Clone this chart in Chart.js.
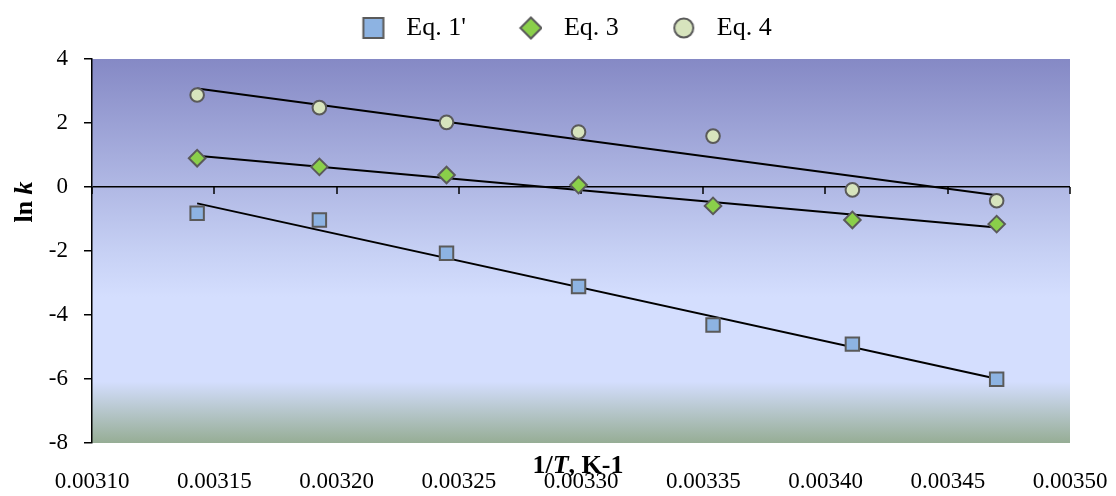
<!DOCTYPE html>
<html>
<head>
<meta charset="utf-8">
<script src="https://cdn.jsdelivr.net/npm/chart.js@4.4.0/dist/chart.umd.min.js"></script>
<style>
  html, body { margin: 0; background: #fff; }
  #wrap { width: 1116px; height: 496px; }
</style>
</head>
<body>
<div id="wrap"><canvas id="chart"></canvas></div>
<script>
// 1/T values (K^-1) and ln k for each equation
const invT = [0.003143, 0.003193, 0.003245, 0.003299, 0.003354, 0.003411, 0.003470];
const eq1 = [-0.82, -1.03, -2.07, -3.11, -4.31, -4.91, -6.01];
const eq3 = [0.90, 0.63, 0.375, 0.06, -0.59, -1.03, -1.16];
const eq4 = [2.875, 2.48, 2.02, 1.72, 1.59, -0.09, -0.43];
const seriesNames = ["Eq. 1'", "Eq. 3", "Eq. 4"];

const SERIF = "'Liberation Serif', 'Times New Roman', serif";
const EDGE = '#5a5a5a';

function points(ys) {
  return invT.map((x, i) => ({ x: x, y: ys[i] }));
}

// least squares line, like the Excel linear trendline
function trend(ys) {
  const n = invT.length;
  const mx = invT.reduce((a, b) => a + b, 0) / n;
  const my = ys.reduce((a, b) => a + b, 0) / n;
  let sxy = 0, sxx = 0;
  invT.forEach((x, i) => { sxy += (x - mx) * (ys[i] - my); sxx += (x - mx) * (x - mx); });
  const k = sxy / sxx;
  const x0 = invT[0], x1 = invT[n - 1];
  return [{ x: x0, y: my + k * (x0 - mx) }, { x: x1, y: my + k * (x1 - mx) }];
}

// legend marker pictures (bigger than the plot markers, as in the original)
function sprite(kind, fill) {
  const c = document.createElement('canvas');
  c.width = 50; c.height = 26;
  const g = c.getContext('2d');
  const cx = 38.5, cy = 13;
  g.fillStyle = fill; g.strokeStyle = EDGE; g.lineWidth = 2;
  g.beginPath();
  if (kind === 'rect') g.rect(cx - 10, cy - 10, 20, 20);
  else if (kind === 'diamond') { g.moveTo(cx, cy - 10.5); g.lineTo(cx + 10.5, cy); g.lineTo(cx, cy + 10.5); g.lineTo(cx - 10.5, cy); g.closePath(); }
  else g.arc(cx, cy, 9.5, 0, Math.PI * 2);
  g.fill(); g.stroke();
  return c;
}
const legendIcons = [sprite('rect', '#8db3e2'), sprite('diamond', '#8acf4a'), sprite('circle', '#d7e4bd')];

const plotBackground = {
  id: 'plotBackground',
  beforeDraw(chart) {
    const { ctx, chartArea: a } = chart;
    const g = ctx.createLinearGradient(0, a.top, 0, a.bottom);
    g.addColorStop(0, '#8589c5');
    g.addColorStop(0.5, '#c6d0f4');
    g.addColorStop(0.62, '#d4defe');
    g.addColorStop(0.84, '#d4defe');
    g.addColorStop(1, '#96ad95');
    ctx.save();
    ctx.fillStyle = g;
    ctx.fillRect(a.left, a.top, a.right - a.left, a.bottom - a.top);
    ctx.restore();
  }
};

// small tick marks hanging under the zero line
const zeroTicks = {
  id: 'zeroTicks',
  beforeDatasetsDraw(chart) {
    const { ctx, scales: { x, y } } = chart;
    const y0 = y.getPixelForValue(0);
    ctx.save();
    ctx.strokeStyle = '#000';
    ctx.lineWidth = 1.5;
    x.ticks.forEach(t => {
      const px = Math.round(x.getPixelForValue(t.value));
      ctx.beginPath();
      ctx.moveTo(px, y0);
      ctx.lineTo(px, y0 + 7);
      ctx.stroke();
    });
    ctx.restore();
  }
};

function richText(ctx, parts, cx, cy) {
  let w = 0;
  parts.forEach(p => { ctx.font = p[1]; w += ctx.measureText(p[0]).width; });
  let x = cx - w / 2;
  parts.forEach(p => { ctx.font = p[1]; ctx.fillText(p[0], x, cy); x += ctx.measureText(p[0]).width; });
}

const axisTitles = {
  id: 'axisTitles',
  afterDraw(chart) {
    const { ctx, chartArea: a } = chart;
    const b = 'bold 26px ' + SERIF, bi = 'italic bold 26px ' + SERIF;
    ctx.save();
    ctx.fillStyle = '#000';
    ctx.textBaseline = 'middle';
    ctx.textAlign = 'left';
    richText(ctx, [['1/', b], ['T', bi], [', K-1', b]], (a.left + a.right) / 2 - 3, a.bottom + 23);
    ctx.translate(25, a.top + 143);
    ctx.rotate(-Math.PI / 2);
    richText(ctx, [['ln ', b], ['k', bi]], 0, 0);
    ctx.restore();
  }
};

const markStyle = [
  { pointStyle: 'rect', pointRadius: 9.5, backgroundColor: '#8db3e2' },
  { pointStyle: 'rectRot', pointRadius: 8.3, backgroundColor: '#8acf4a' },
  { pointStyle: 'circle', pointRadius: 6.8, backgroundColor: '#d7e4bd' }
];
const allSeries = [eq1, eq3, eq4];

const datasets = allSeries.map((ys, i) => Object.assign({
  label: seriesNames[i],
  data: points(ys),
  borderColor: EDGE,
  borderWidth: 2,
  pointBorderColor: EDGE,
  pointBorderWidth: 2,
  showLine: false
}, markStyle[i], { pointBackgroundColor: markStyle[i].backgroundColor }));

allSeries.forEach((ys, i) => datasets.push({
  label: 'trend ' + seriesNames[i],
  data: trend(ys),
  showLine: true,
  borderColor: '#000',
  borderWidth: 2,
  pointRadius: 0
}));

new Chart(document.getElementById('chart'), {
  type: 'scatter',
  data: { datasets: datasets },
  plugins: [plotBackground, zeroTicks, axisTitles],
  options: {
    responsive: true,
    maintainAspectRatio: false,
    devicePixelRatio: 1,
    animation: false,
    layout: { padding: { top: -3, right: 46, left: 28, bottom: 0 } },
    plugins: {
      tooltip: { enabled: false },
      legend: {
        position: 'top',
        labels: {
          font: { family: SERIF, size: 26 },
          color: '#000',
          padding: 18,
          usePointStyle: true,
          pointStyleWidth: 67,
          boxHeight: 20,
          generateLabels(chart) {
            return Chart.defaults.plugins.legend.labels.generateLabels(chart)
              .filter(l => l.datasetIndex < 3)
              .map(l => Object.assign(l, { pointStyle: legendIcons[l.datasetIndex], rotation: 0, fontColor: '#000' }));
          }
        }
      }
    },
    scales: {
      x: {
        type: 'linear',
        min: 0.0031,
        max: 0.0035,
        border: { display: false },
        grid: { display: true, drawOnChartArea: false, drawTicks: true, tickLength: 22, color: 'rgba(0,0,0,0)' },
        ticks: {
          stepSize: 0.00005,
          padding: 3,
          color: '#000',
          font: { family: SERIF, size: 23 },
          maxRotation: 0,
          autoSkip: false,
          callback: v => v.toFixed(5)
        },
        afterFit(s) { s.height = 53; }
      },
      // empty strip between legend and plot
      gap: {
        type: 'linear',
        position: 'top',
        min: 0.0031,
        max: 0.0035,
        border: { display: false },
        grid: { display: false },
        ticks: { display: false },
        afterFit(s) { s.height = 8; }
      },
      y: {
        min: -8,
        max: 4,
        border: { display: true, color: '#000', width: 1.5 },
        grid: {
          color: c => (c.tick && c.tick.value === 0 ? '#000' : 'rgba(0,0,0,0)'),
          tickColor: '#000',
          tickLength: 8,
          lineWidth: 1.5
        },
        ticks: {
          stepSize: 2,
          padding: 16,
          color: '#000',
          font: { family: SERIF, size: 23 }
        },
        afterFit(s) { s.width = 64; }
      }
    }
  }
});
</script>
</body>
</html>
